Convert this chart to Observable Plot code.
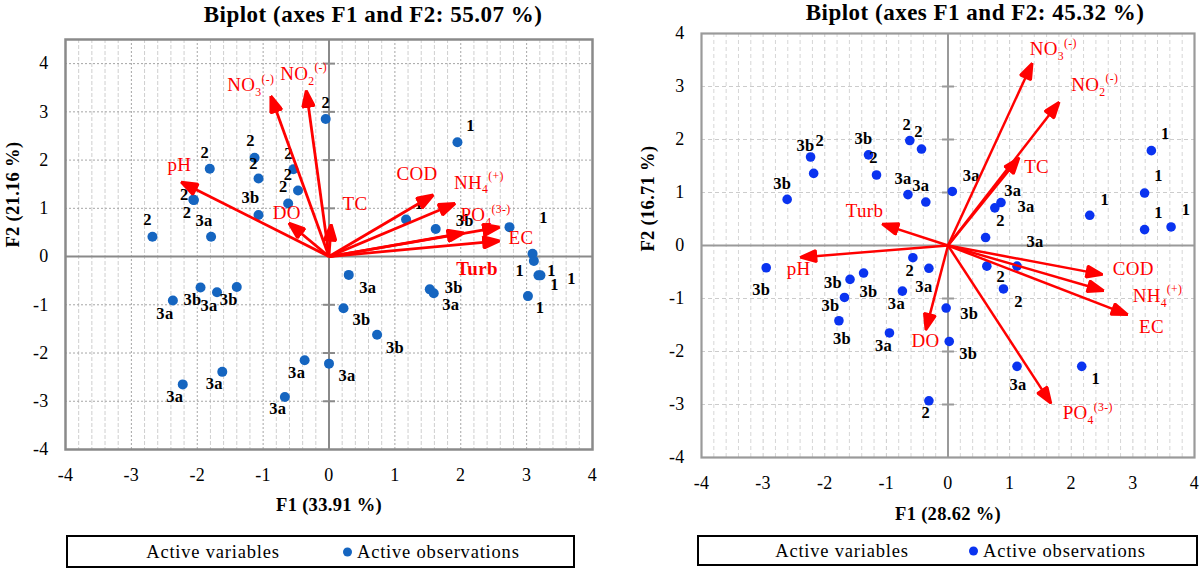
<!DOCTYPE html>
<html>
<head>
<meta charset="utf-8">
<script src="https://cdn.jsdelivr.net/npm/d3@7"></script>
<script src="https://cdn.jsdelivr.net/npm/@observablehq/plot@0.6"></script>
<style>
  html, body { margin: 0; padding: 0; background: #fff; }
  #root { position: relative; width: 1200px; height: 571px; overflow: hidden;
          font-family: "Liberation Serif", serif; color: #000; }
  .title { position: absolute; font-weight: bold; font-size: 23px; letter-spacing: 0.5px;
           white-space: nowrap; transform: translate(-50%, -50%); }
  .panel { position: absolute; top: 0; }
  .legend { position: absolute; border: 2px solid #000; box-sizing: border-box; font-size: 18.5px;
            letter-spacing: 0.8px; }
  .legend span { position: absolute; top: 50%; white-space: nowrap; transform: translateY(-50%); }
  .legend .dot { width: 9px; height: 9px; border-radius: 50%; }
</style>
</head>
<body>
<div id="root">
  <div class="title" style="left:373px; top:15px;">Biplot (axes F1 and F2: 55.07 %)</div>
  <div class="title" style="left:975px; top:13px;">Biplot (axes F1 and F2: 45.32 %)</div>
  <div class="panel" id="left" style="left:0px;"></div>
  <div class="panel" id="right" style="left:600px;"></div>
  <div class="legend" style="left:66px; top:535px; width:509px; height:33px;">
    <span style="left:145px; transform:translate(-50%,-50%);">Active variables</span>
    <span class="dot" style="left:275px; background:#1565c0;"></span>
    <span style="left:289px;">Active observations</span>
  </div>
  <div class="legend" style="left:697px; top:535px; width:501px; height:31px;">
    <span style="left:143px; transform:translate(-50%,-50%);">Active variables</span>
    <span class="dot" style="left:270px; background:#0a33f0;"></span>
    <span style="left:284px;">Active observations</span>
  </div>
</div>
<script>
// ---- Water-quality variables shown as loading vectors ----
const variables = ["pH", "DO", "NO3(-)", "NO2(-)", "TC", "COD", "NH4(+)", "PO4(3-)", "EC", "Turb"];

// ---- First biplot: observations (site class and F1/F2 scores) ----
const leftSite = ["2", "1", "2", "2", "2", "2", "2", "2", "2", "2", "2", "3a", "3b", "1", "3b", "1", "1", "1",
  "1", "1", "3a", "3b", "3a", "1", "3b", "3b", "3a", "3a", "3a", "3a", "3a", "3a", "3b", "3a", "3b"];
const leftF1 = [-0.05, 1.95, -1.81, -1.13, -1.07, -0.54, -0.47, -0.62, -2.06, -2.05, -2.68, -1.79, -1.07, 1.17,
  1.62, 2.74, 3.09, 3.11, 3.18, 3.21, 0.30, 1.53, 1.59, 3.02, 0.22, 0.73, -0.37, 0.00, -0.67, -1.62, -2.22,
  -2.37, -1.95, -1.70, -1.40];
const leftF2 = [2.85, 2.37, 1.82, 2.05, 1.62, 1.81, 1.37, 1.10, 1.18, 1.17, 0.41, 0.41, 0.86, 0.77, 0.57, 0.61,
  0.06, -0.09, -0.39, -0.39, -0.38, -0.68, -0.76, -0.82, -1.07, -1.62, -2.15, -2.22, -2.91, -2.39, -2.65,
  -0.91, -0.64, -0.74, -0.63];
// First biplot: variable vectors
const leftV1 = [-2.21, -0.58, -0.87, -0.34, 0.03, 1.55, 1.88, 2.01, 2.55, 2.55];
const leftV2 = [1.52, 0.66, 3.28, 3.39, 0.62, 1.25, 1.08, 0.48, 0.60, 0.32];

// ---- Second biplot: observations ----
const rightSite = ["1", "1", "1", "1", "1", "2", "2", "3b", "2", "3b", "2", "3b", "3a", "3a", "3a", "3a", "3a",
  "2", "3a", "2", "3a", "2", "2", "3b", "3b", "3b", "3b", "3b", "3a", "3a", "3b", "3b", "3a", "1", "2"];
const rightF1 = [3.30, 3.19, 2.30, 3.19, 3.62, -0.62, -0.43, -2.23, -2.18, -1.29, -1.16, -2.61, -0.65, -0.36,
  0.07, 0.76, 0.86, 0.61, 1.12, -0.57, -0.31, 0.63, 0.90, -2.95, -1.59, -1.37, -1.68, -1.77, -0.74, -0.95,
  -0.03, 0.02, 1.12, 2.17, -0.31];
const rightF2 = [1.79, 0.99, 0.57, 0.30, 0.35, 1.98, 1.82, 1.67, 1.36, 1.71, 1.33, 0.87, 0.96, 0.82, 1.02,
  0.71, 0.81, 0.15, -0.39, -0.23, -0.43, -0.39, -0.82, -0.42, -0.64, -0.52, -0.98, -1.42, -0.86, -1.65,
  -1.18, -1.81, -2.28, -2.28, -2.93];
// Second biplot: variable vectors
const rightV1 = [-2.36, -0.35, 1.35, 1.78, 1.13, 2.47, 2.49, 1.65, 2.88, -1.03];
const rightV2 = [-0.22, -1.55, 3.40, 2.67, 1.62, -0.54, -0.84, -2.94, -1.29, 0.39];

// Axis ticks
const xTicks = [-4, -3, -2, -1, 0, 1, 2, 3, 4];
const yTicks = [-4, -3, -2, -1, 0, 1, 2, 3, 4];

// ---- Label placement (pixel nudges from each point / arrow tip) ----
const leftLabelNudge = [[0, -16], [13, -17], [-5, -16], [-4, -17], [-5, -15], [-5, -16], [-10, -16], [-5, -17],
  [-9, -5], [-7, 13], [-5, -17], [-7, -16], [-8, -17], [13, -16], [29, -8], [34, -9], [19, 17], [-14, 10],
  [33, 3], [14, 9], [19, 13], [24, -2], [17, 12], [12, 12], [18, 12], [18, 13], [-8, 12], [18, 12], [-7, 12],
  [-8, 12], [-8, 12], [-8, 13], [-8, 12], [-8, 13], [-8, 13]];
const rightLabelNudge = [[14, -17], [14, -17], [15, -16], [14, -17], [15, -17], [-3, -16], [-3, -17], [-5, -11],
  [6, -33], [-5, -16], [-3, -17], [-5, -16], [-5, -16], [-5, -16], [19, -16], [18, -17], [25, 4], [15, -17],
  [18, -24], [-3, 13], [-5, 18], [14, 11], [15, 13], [-5, 22], [-17, 3], [5, 19], [-14, 8], [3, 18], [-6, 13],
  [-6, 13], [23, 6], [19, 12], [1, 18], [14, 12], [-3, 12]];
const leftVarNudge = [[-4, -18], [-4, -12], [-21, -13], [-3, -19], [24, -23], [-14, -22], [26, -22], [24, -18],
  [24, 10], [-20, 28]];
const rightVarNudge = [[-4, 12], [-1, 13], [22, -16], [37, -19], [19, 7], [33, -5], [56, 6], [38, 12], [26, 13],
  [-20, -14]];

const SERIF = '"Liberation Serif", serif';
const RED = "#ff0000";

// Filled triangular arrowhead used at the end of each loading vector
function headMarker(color) {
  const ns = "http://www.w3.org/2000/svg";
  const m = document.createElementNS(ns, "marker");
  m.setAttribute("viewBox", "-15 -7 18 14");
  m.setAttribute("markerWidth", "18");
  m.setAttribute("markerHeight", "14");
  m.setAttribute("markerUnits", "userSpaceOnUse");
  m.setAttribute("orient", "auto");
  const p = document.createElementNS(ns, "path");
  p.setAttribute("d", "M-13.5,-5.8L2.5,0L-13.5,5.8Z");
  p.setAttribute("fill", color);
  m.appendChild(p);
  return m;
}

// Short horizontal tick drawn on the vertical origin axis
const originTick = {draw(ctx) { ctx.moveTo(-6, 0); ctx.lineTo(6, 0); }};

// Chemical labels: subscript count and superscript charge
function chemistry(svg) {
  d3.select(svg).selectAll("text").each(function () {
    const m = /^([A-Z]+)(\d)\((.+)\)$/.exec(this.textContent);
    if (!m) return;
    const t = d3.select(this).text(null);
    t.append("tspan").text(m[1]);
    t.append("tspan").attr("font-size", "0.62em").attr("dy", "0.4em").text(m[2]);
    t.append("tspan").attr("font-size", "0.62em").attr("dy", "-1.15em").text(`(${m[3]})`);
  });
}

function biplot(o) {
  const pts = d3.range(o.site.length);
  const vars = d3.range(variables.length);
  const minor = d3.range(-20, 21).filter(i => i % 5 !== 0).map(i => i / 5);
  const xMajor = xTicks.filter(d => d !== 0 && Math.abs(d) !== 4);
  const yMajor = yTicks.filter(d => d !== 0 && d > o.yDomain[0] && d < o.yDomain[1]);

  const linkOpts = {
    x1: () => 0, y1: () => 0, x2: i => o.v1[i], y2: i => o.v2[i],
    stroke: RED, strokeWidth: o.arrowWidth
  };
  let arrows;
  try { arrows = Plot.link(vars, {...linkOpts, markerEnd: headMarker}); }
  catch (e) { arrows = Plot.link(vars, {...linkOpts, markerEnd: "arrow"}); }

  const svg = Plot.plot({
    width: o.width,
    height: o.height,
    marginTop: o.margin[0], marginRight: o.margin[1], marginBottom: o.margin[2], marginLeft: o.margin[3],
    x: {domain: [-4, 4]},
    y: {domain: o.yDomain},
    style: {fontFamily: SERIF, fontSize: "18px", color: "#000", background: "transparent", overflow: "visible"},
    marks: [
      Plot.gridX(minor, {stroke: o.minorColor, strokeOpacity: 1, strokeDasharray: o.minorDash, strokeWidth: 1}),
      Plot.gridX(xMajor, {stroke: o.majorColor, strokeOpacity: 1, strokeDasharray: o.majorDash, strokeWidth: 1}),
      Plot.gridY(yMajor, {stroke: o.majorColor, strokeOpacity: 1, strokeDasharray: o.majorDash, strokeWidth: 1}),
      Plot.ruleX([0], {stroke: o.axisColor, strokeWidth: 2}),
      Plot.ruleY([0], {stroke: o.axisColor, strokeWidth: 2}),
      Plot.dot(yMajor, {x: () => 0, y: d => d, symbol: originTick, r: 6, fill: "none",
        stroke: o.axisColor, strokeWidth: 2}),
      Plot.frame({stroke: o.frameColor, strokeWidth: o.frameWidth}),
      Plot.axisX(xTicks, {tickSize: 0, tickPadding: 19, tickFormat: d => String(d), label: null, fontSize: 18}),
      Plot.axisY(yTicks, {tickSize: 0, tickPadding: 17, tickFormat: d => String(d), label: null, fontSize: 18}),
      Plot.text([o.xTitle], {frameAnchor: "bottom", dy: o.xTitleOffset, fontWeight: "bold", fontSize: 18.5}),
      Plot.text([o.yTitle], {frameAnchor: "left", rotate: -90, dx: o.yTitleOffset[0], dy: o.yTitleOffset[1],
        fontWeight: "bold", fontSize: 18.5}),
      Plot.dot(pts, {x: i => o.f1[i], y: i => o.f2[i], r: o.dotRadius, fill: o.dotColor}),
      ...pts.map(i => Plot.text([i], {
        x: j => o.f1[j], y: j => o.f2[j], text: j => o.site[j],
        dx: o.labelNudge[i][0], dy: o.labelNudge[i][1], fontWeight: "bold", fontSize: 16.5, fill: "#000"
      })),
      arrows,
      ...vars.map(i => Plot.text([i], {
        x: j => o.v1[j], y: j => o.v2[j], text: j => variables[j],
        dx: o.varNudge[i][0], dy: o.varNudge[i][1], fill: RED, fontSize: 19,
        fontWeight: o.boldVars.includes(variables[i]) ? "bold" : "normal"
      }))
    ]
  });
  svg.style.letterSpacing = "0.3px";
  chemistry(svg);
  return svg;
}

document.getElementById("left").appendChild(biplot({
  width: 600, height: 530, margin: [39, 8, 81, 65], yDomain: [-4, 4.5],
  site: leftSite, f1: leftF1, f2: leftF2, v1: leftV1, v2: leftV2,
  labelNudge: leftLabelNudge, varNudge: leftVarNudge, boldVars: ["Turb"],
  xTitle: "F1 (33.91 %)", yTitle: "F2 (21.16 %)", xTitleOffset: 61, yTitleOffset: [-52, 3],
  dotColor: "#1565c0", dotRadius: 5, arrowWidth: 2.8,
  minorColor: "#cfcfcf", minorDash: "4,2", majorColor: "#a6a6a6", majorDash: "2,2",
  axisColor: "#8a8a8a", frameColor: "#8a8a8a", frameWidth: 2.5
}));

document.getElementById("right").appendChild(biplot({
  width: 600, height: 530, margin: [33, 6, 73, 101], yDomain: [-4, 4],
  site: rightSite, f1: rightF1, f2: rightF2, v1: rightV1, v2: rightV2,
  labelNudge: rightLabelNudge, varNudge: rightVarNudge, boldVars: [],
  xTitle: "F1 (28.62 %)", yTitle: "F2 (16.71 %)", xTitleOffset: 62, yTitleOffset: [-53, 6],
  dotColor: "#0a33f0", dotRadius: 4.8, arrowWidth: 2.5,
  minorColor: "#d6d6d6", minorDash: "4,3", majorColor: "#cccccc", majorDash: "4,3",
  axisColor: "#9a9a9a", frameColor: "#9a9a9a", frameWidth: 2.2
}));
</script>
</body>
</html>
